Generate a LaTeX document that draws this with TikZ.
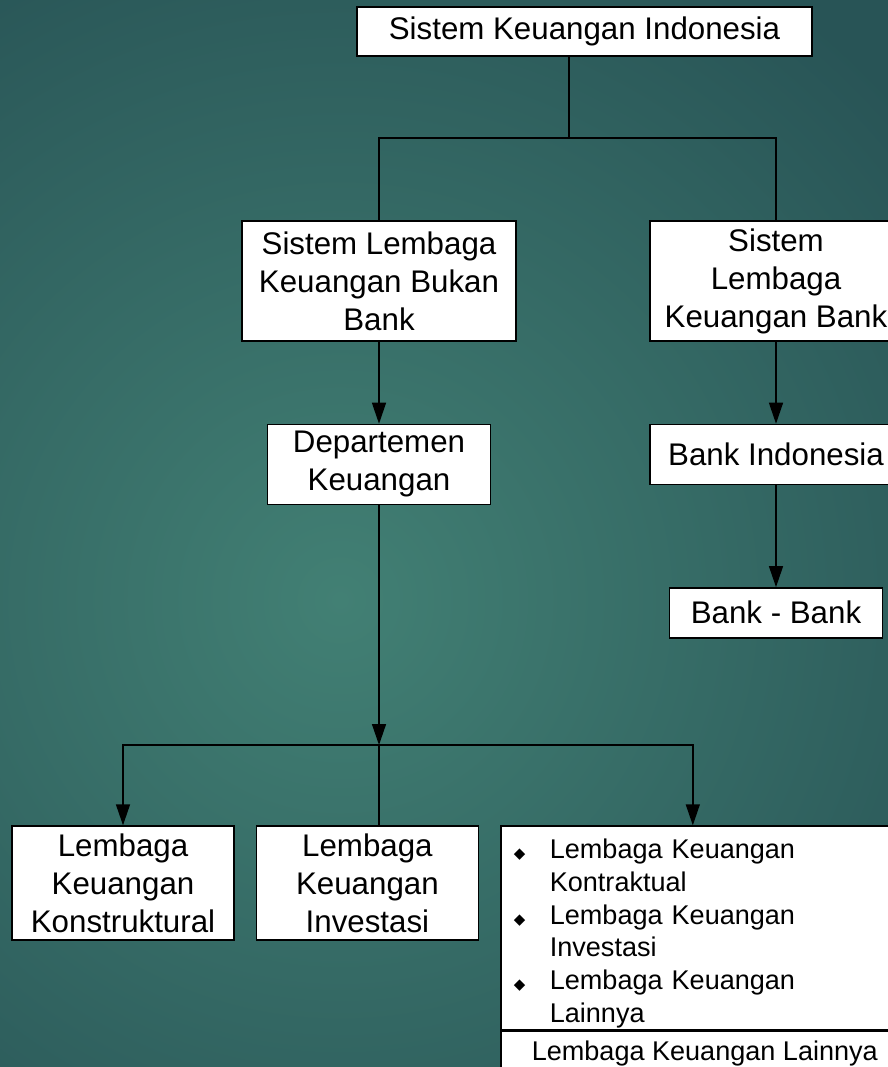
\documentclass[tikz,border=0pt]{standalone}
\usepackage{fontspec}
\setmainfont{Liberation Sans}
\newfontfamily\simbol{DejaVu Sans}
\usetikzlibrary{arrows.meta,positioning}
\definecolor{tealterang}{RGB}{66,128,116}
\definecolor{tealgelap}{RGB}{40,84,86}
\tikzstyle{kotak} = [rectangle, fill=white, draw=black, inner sep=0pt, text centered, align=center, font=\fontsize{17.8}{21.6}\selectfont]
\tikzstyle{kotakdaftar} = [rectangle, fill=white, draw=black, inner xsep=2mm, inner ysep=0pt, text width=7.76cm, align=left, minimum height=4.08cm, font=\fontsize{15.4}{18.6}\selectfont]
\tikzstyle{panah} = [-{Triangle[length=4.2mm,width=2.8mm]}, thick]
\newcommand{\butir}{\hspace{0.06cm}{\simbol\fontsize{8.5}{8.5}\selectfont ◆}}

\begin{document}
\begin{tikzpicture} [node distance=1.64cm]
	\useasboundingbox (0,0) rectangle (17.76,-21.34);
	\clip (0,0) rectangle (17.76,-21.34);
	\fill [tealgelap] (0,0) rectangle (17.76,-21.34);
	\shade [inner color=tealterang, outer color=tealgelap] (6.8,-12) circle (15cm);
	
	\node [kotak, thick, minimum width=9.1cm, minimum height=0.98cm] (utama) at (11.69,-0.63) {Sistem Keuangan Indonesia};
	\node [kotak, thick, minimum width=5.48cm, minimum height=2.4cm] (bukanbank) at (7.58,-5.62) {Sistem Lembaga\\Keuangan Bukan\\Bank};
	\node [kotak, thick, minimum width=5.04cm, minimum height=2.4cm] (bank) at (15.52,-5.62) {Sistem\\Lembaga\\Keuangan Bank};
	
	\node [kotak, thick, minimum width=4.46cm, minimum height=1.6cm, below = of bukanbank] (departemen) {Departemen\\Keuangan};
	\node [kotak, thick, minimum width=5.04cm, minimum height=1.2cm, below = of bank] (bankindo) {Bank Indonesia};
	\node [kotak, thick, minimum width=4.26cm, minimum height=1cm, below = 2.04cm of bankindo] (bankbank) {Bank - Bank};
	
	\node [kotak, thick, minimum width=4.44cm, minimum height=2.28cm] (konstruktural) at (2.46,-17.66) {Lembaga\\Keuangan\\Konstruktural};
	\node [kotak, thick, minimum width=4.44cm, minimum height=2.28cm, right = 0.42cm of konstruktural] (investasi) {Lembaga\\Keuangan\\Investasi};
	\node [kotakdaftar, thick, anchor=north west] (lainnya) at ([xshift=4.2mm]investasi.north east) {%
		\raisebox{-0.12cm}[\height][\depth]{\begin{tabular}{@{}p{0.78cm}@{}l@{}}
			\butir & Lembaga Keuangan\\
			& Kontraktual\\
			\butir & Lembaga Keuangan\\
			& Investasi\\
			\butir & Lembaga Keuangan\\
			& Lainnya
		\end{tabular}}};
	\node [kotak, thick, minimum width=8.16cm, minimum height=0.9cm, below = 0pt of lainnya, font=\fontsize{15.4}{18.6}\selectfont] (lainnyabawah) {Lembaga Keuangan Lainnya};
	
	\coordinate (cabang1) at (11.38,-2.76);
	\coordinate (cabang2) at (7.58,-14.9);
	
	\draw [thick] (utama.south -| cabang1) -- (cabang1);
	\draw [thick] (bukanbank.north) |- (cabang1) -| (bank.north);
	\draw [panah] (bukanbank) -- (departemen);
	\draw [panah] (bank) -- (bankindo);
	\draw [panah] (bankindo) -- (bankbank);
	\draw [panah] (departemen) -- (cabang2);
	\draw [panah] (cabang2) -| (konstruktural.north);
	\draw [panah] (cabang2) -| ([xshift=-2.4mm]lainnya.north);
	\draw [thick] (cabang2) -- (cabang2 |- investasi.north);
	
\end{tikzpicture}
\end{document}
